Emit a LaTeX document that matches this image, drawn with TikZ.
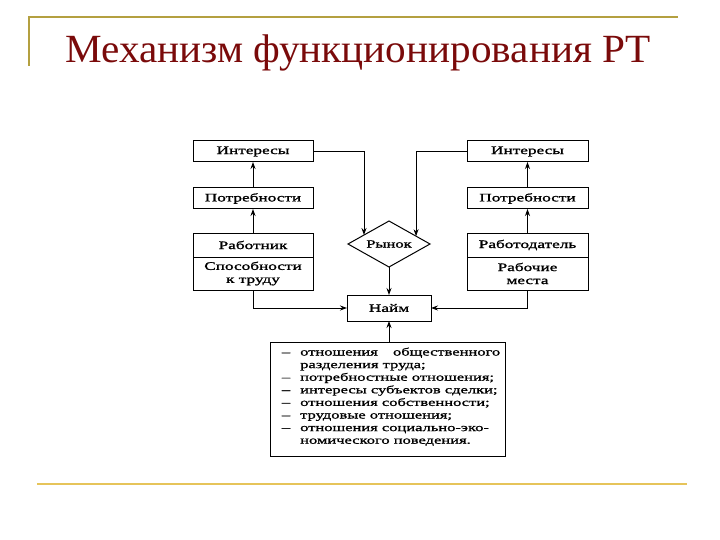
\documentclass[tikz,border=0pt]{standalone}
\usepackage{fontspec}
\setmainfont{Liberation Serif}
\newfontfamily\dfont[FakeStretch=1.5,FakeBold=1.5]{Liberation Serif}
\newfontfamily\lfont[FakeStretch=1.5,FakeBold=1.2]{Liberation Serif}
\newfontfamily\tfont[FakeStretch=1.03]{Liberation Serif}
\usetikzlibrary{shapes.geometric,arrows.meta,calc}
\definecolor{rulet}{HTML}{B4A040}
\definecolor{ruleb}{HTML}{E6C45A}
\definecolor{titlec}{HTML}{7A0A0A}
\begin{document}
\begin{tikzpicture}[x=1pt,y=-1pt,
 box/.style={draw, line width=1pt, minimum width=120pt, minimum height=21pt, inner sep=0pt, outer sep=0pt, font=\dfont\fontsize{11.5}{13}\selectfont},
 txt/.style={inner sep=0pt, align=center, font=\dfont\fontsize{11.5}{13}\selectfont},
 ltxt/.style={inner sep=0pt, anchor=base west, font=\lfont\fontsize{11}{12}\selectfont},
 dsh/.style={inner sep=0pt, anchor=base, font=\lfont\fontsize{11}{12}\selectfont},
 conn/.style={line width=0.9pt},
 arr/.style={conn, -{Stealth[length=7pt,width=5pt]}},
]
\useasboundingbox (0,0) rectangle (720,540);
% frame rules and title
\draw[color=rulet, line width=2pt] (29,66) -- (29,17) -- (678,17);
\draw[color=ruleb, line width=2.5pt] (37,484) -- (687,484);
\node[anchor=base west, inner sep=0pt, text=titlec, font=\tfont\fontsize{40}{44}\selectfont] (title) at (65,63) {Механизм функционирования РТ};

% left column
\node[box] (intL) at (253,151.5) {Интересы};
\node[box] (potL) at (253,198.5) {Потребности};
\node[box, minimum height=57pt] (wL) at (253,261.5) {};
\node[txt] (wLa) at (253,245) {Работник};
\node[txt] (wLb) at (253,273.5) {Способности\\к труду};
\draw[line width=0.8pt] ($(wL.north west)+(0,24)$) -- ($(wL.north east)+(0,24)$);

% right column
\node[box, minimum width=121pt] (intR) at (527.5,151.5) {Интересы};
\node[box, minimum width=121pt] (potR) at (527.5,198.5) {Потребности};
\node[box, minimum width=121pt, minimum height=57pt] (wR) at (527.5,261.5) {};
\node[txt] (wRa) at (527.5,245) {Работодатель};
\node[txt] (wRb) at (527.5,273.5) {Рабочие\\места};
\draw[line width=0.8pt] ($(wR.north west)+(0,24)$) -- ($(wR.north east)+(0,24)$);

% centre
\node[draw, diamond, line width=1pt, aspect=1.78, minimum width=82pt, minimum height=46pt, inner sep=0pt, outer sep=0pt, font=\dfont\fontsize{11}{12}\selectfont] (ryn) at (389,244) {Рынок};
\node[box, minimum width=84pt, minimum height=26pt] (naim) at (389,308) {Найм};

\coordinate (inL) at ($(ryn.west)!0.39!(ryn.north)$);
\coordinate (inR) at ($(ryn.east)!0.34!(ryn.north)$);

% list box
\node[draw, line width=1pt, minimum width=235pt, minimum height=114pt, inner sep=0pt] (list) at (387.5,399) {};
\node[dsh] (d1) at (286,355.5) {–};
\node[ltxt] (l1) at (300,355.5) {\makebox[200pt][s]{отношения \hfill общественного}};
\node[ltxt] (l2) at (300,368.1) {разделения труда;};
\node[dsh] (d3) at (286,380.7) {–};
\node[ltxt] (l3) at (300,380.7) {потребностные отношения;};
\node[dsh] (d4) at (286,393.3) {–};
\node[ltxt] (l4) at (300,393.3) {интересы субъектов сделки;};
\node[dsh] (d5) at (286,405.9) {–};
\node[ltxt] (l5) at (300,405.9) {отношения собственности;};
\node[dsh] (d6) at (286,418.5) {–};
\node[ltxt] (l6) at (300,418.5) {трудовые отношения;};
\node[dsh] (d7) at (286,431.1) {–};
\node[ltxt] (l7) at (300,431.1) {отношения социально-эко-};
\node[ltxt] (l8) at (300,443.7) {номического поведения.};

% connectors
\draw[arr] (wL.north) -- (potL.south);
\draw[arr] (potL.north) -- (intL.south);
\draw[arr] (wR.north) -- (potR.south);
\draw[arr] (potR.north) -- (intR.south);
\draw[arr] (intL.east) -| (inL);
\draw[arr] (intR.west) -| (inR);
\draw[arr] (ryn.south) -- (naim.north);
\draw[arr] (wL.south) |- (naim.west);
\draw[arr] (wR.south) |- (naim.east);
\draw[arr] (naim.south |- list.north) -- (naim.south);
\end{tikzpicture}
\end{document}
